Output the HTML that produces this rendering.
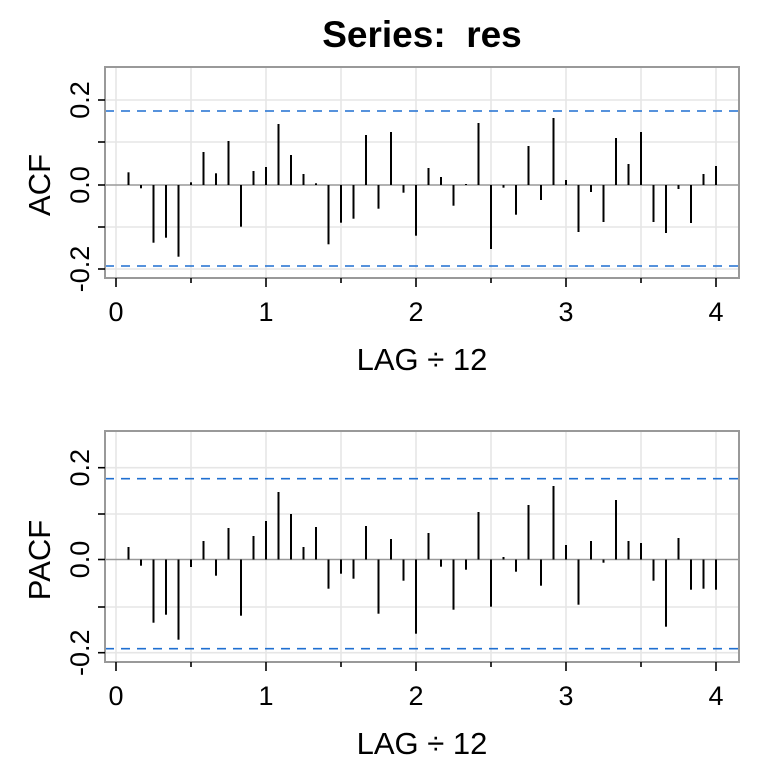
<!DOCTYPE html>
<html><head><meta charset="utf-8"><style>body{margin:0;background:#fff}svg{display:block}text{font-family:"Liberation Sans",Arial,sans-serif;fill:#000}</style></head>
<body>
<svg width="768" height="768" viewBox="0 0 768 768" xmlns="http://www.w3.org/2000/svg">
<text x="422" y="47" font-size="37" font-weight="bold" text-anchor="middle" xml:space="preserve">Series:  res</text>

<!-- TOP PANEL -->
<g stroke="#e6e6e6" stroke-width="1.6">
<line x1="116" y1="67" x2="116" y2="278"/><line x1="191" y1="67" x2="191" y2="278"/><line x1="266" y1="67" x2="266" y2="278"/><line x1="341" y1="67" x2="341" y2="278"/><line x1="416" y1="67" x2="416" y2="278"/><line x1="491" y1="67" x2="491" y2="278"/><line x1="566" y1="67" x2="566" y2="278"/><line x1="641" y1="67" x2="641" y2="278"/><line x1="716" y1="67" x2="716" y2="278"/>
<line x1="105" y1="100" x2="739" y2="100"/><line x1="105" y1="142" x2="739" y2="142"/><line x1="105" y1="227" x2="739" y2="227"/><line x1="105" y1="269" x2="739" y2="269"/>
</g>
<line x1="105" y1="185" x2="739" y2="185" stroke="#999" stroke-width="1.6"/>
<g stroke="#1f6fd1" stroke-width="1.6" stroke-dasharray="9,7"><line x1="105" y1="111" x2="739" y2="111"/><line x1="105" y1="266" x2="739" y2="266"/></g>
<g stroke="#000" stroke-width="2">
<line x1="128.5" y1="185" x2="128.5" y2="172.3"/><line x1="141" y1="185" x2="141" y2="188.3"/><line x1="153.5" y1="185" x2="153.5" y2="242.7"/><line x1="166" y1="185" x2="166" y2="237.7"/><line x1="178.5" y1="185" x2="178.5" y2="256.7"/><line x1="191" y1="185" x2="191" y2="182.3"/><line x1="203.5" y1="185" x2="203.5" y2="152"/><line x1="216" y1="185" x2="216" y2="173.3"/><line x1="228.5" y1="185" x2="228.5" y2="141"/><line x1="241" y1="185" x2="241" y2="226.7"/><line x1="253.5" y1="185" x2="253.5" y2="171"/><line x1="266" y1="185" x2="266" y2="167"/>
<line x1="278.5" y1="185" x2="278.5" y2="124"/><line x1="291" y1="185" x2="291" y2="155"/><line x1="303.5" y1="185" x2="303.5" y2="174"/><line x1="316" y1="185" x2="316" y2="183.3"/><line x1="328.5" y1="185" x2="328.5" y2="244.3"/><line x1="341" y1="185" x2="341" y2="222.7"/><line x1="353.5" y1="185" x2="353.5" y2="218.7"/><line x1="366" y1="185" x2="366" y2="135"/><line x1="378.5" y1="185" x2="378.5" y2="208.7"/><line x1="391" y1="185" x2="391" y2="132"/><line x1="403.5" y1="185" x2="403.5" y2="192.7"/><line x1="416" y1="185" x2="416" y2="235.7"/>
<line x1="428.5" y1="185" x2="428.5" y2="168"/><line x1="441" y1="185" x2="441" y2="177"/><line x1="453.5" y1="185" x2="453.5" y2="205.7"/><line x1="466" y1="185" x2="466" y2="184"/><line x1="478.5" y1="185" x2="478.5" y2="123"/><line x1="491" y1="185" x2="491" y2="249"/><line x1="503.5" y1="185" x2="503.5" y2="187.7"/><line x1="516" y1="185" x2="516" y2="214.7"/><line x1="528.5" y1="185" x2="528.5" y2="146"/><line x1="541" y1="185" x2="541" y2="200"/><line x1="553.5" y1="185" x2="553.5" y2="118"/><line x1="566" y1="185" x2="566" y2="180"/>
<line x1="578.5" y1="185" x2="578.5" y2="232"/><line x1="591" y1="185" x2="591" y2="192"/><line x1="603.5" y1="185" x2="603.5" y2="222"/><line x1="616" y1="185" x2="616" y2="138"/><line x1="628.5" y1="185" x2="628.5" y2="164"/><line x1="641" y1="185" x2="641" y2="132"/><line x1="653.5" y1="185" x2="653.5" y2="222"/><line x1="666" y1="185" x2="666" y2="233"/><line x1="678.5" y1="185" x2="678.5" y2="189"/><line x1="691" y1="185" x2="691" y2="223"/><line x1="703.5" y1="185" x2="703.5" y2="174"/><line x1="716" y1="185" x2="716" y2="166"/>
</g>
<rect x="105" y="67" width="634" height="211" fill="none" stroke="#999" stroke-width="2"/>
<g stroke="#000" stroke-width="1.6">
<line x1="98" y1="100" x2="105" y2="100"/><line x1="98" y1="142" x2="105" y2="142"/><line x1="98" y1="185" x2="105" y2="185"/><line x1="98" y1="227" x2="105" y2="227"/><line x1="98" y1="269" x2="105" y2="269"/>
<line x1="116" y1="278" x2="116" y2="287"/><line x1="266" y1="278" x2="266" y2="287"/><line x1="416" y1="278" x2="416" y2="287"/><line x1="566" y1="278" x2="566" y2="287"/><line x1="716" y1="278" x2="716" y2="287"/>
<line x1="191" y1="278" x2="191" y2="283"/><line x1="341" y1="278" x2="341" y2="283"/><line x1="491" y1="278" x2="491" y2="283"/><line x1="641" y1="278" x2="641" y2="283"/>
</g>
<g font-size="27" text-anchor="middle">
<text transform="translate(89,100) rotate(-90)">0.2</text><text transform="translate(89,185) rotate(-90)">0.0</text><text transform="translate(89,269) rotate(-90)">-0.2</text>
<text x="116" y="321">0</text><text x="266" y="321">1</text><text x="416" y="321">2</text><text x="566" y="321">3</text><text x="716" y="321">4</text>
<text x="422" y="370" font-size="31">LAG ÷ 12</text>
<text transform="translate(50,185) rotate(-90)" font-size="31">ACF</text>
</g>

<!-- BOTTOM PANEL -->
<g stroke="#e6e6e6" stroke-width="1.6">
<line x1="116" y1="431" x2="116" y2="662"/><line x1="191" y1="431" x2="191" y2="662"/><line x1="266" y1="431" x2="266" y2="662"/><line x1="341" y1="431" x2="341" y2="662"/><line x1="416" y1="431" x2="416" y2="662"/><line x1="491" y1="431" x2="491" y2="662"/><line x1="566" y1="431" x2="566" y2="662"/><line x1="641" y1="431" x2="641" y2="662"/><line x1="716" y1="431" x2="716" y2="662"/>
<line x1="105" y1="467.7" x2="739" y2="467.7"/><line x1="105" y1="514" x2="739" y2="514"/><line x1="105" y1="607" x2="739" y2="607"/><line x1="105" y1="652.7" x2="739" y2="652.7"/>
</g>
<line x1="105" y1="559.5" x2="739" y2="559.5" stroke="#999" stroke-width="1.6"/>
<g stroke="#1f6fd1" stroke-width="1.6" stroke-dasharray="9,7"><line x1="105" y1="478.7" x2="739" y2="478.7"/><line x1="105" y1="648.7" x2="739" y2="648.7"/></g>
<g stroke="#000" stroke-width="2">
<line x1="128.5" y1="559.5" x2="128.5" y2="547"/><line x1="141" y1="559.5" x2="141" y2="565.7"/><line x1="153.5" y1="559.5" x2="153.5" y2="622.7"/><line x1="166" y1="559.5" x2="166" y2="614.7"/><line x1="178.5" y1="559.5" x2="178.5" y2="639.7"/><line x1="191" y1="559.5" x2="191" y2="567"/><line x1="203.5" y1="559.5" x2="203.5" y2="541"/><line x1="216" y1="559.5" x2="216" y2="575.7"/><line x1="228.5" y1="559.5" x2="228.5" y2="528"/><line x1="241" y1="559.5" x2="241" y2="615.7"/><line x1="253.5" y1="559.5" x2="253.5" y2="536"/><line x1="266" y1="559.5" x2="266" y2="521"/>
<line x1="278.5" y1="559.5" x2="278.5" y2="492"/><line x1="291" y1="559.5" x2="291" y2="514"/><line x1="303.5" y1="559.5" x2="303.5" y2="547"/><line x1="316" y1="559.5" x2="316" y2="527"/><line x1="328.5" y1="559.5" x2="328.5" y2="588.7"/><line x1="341" y1="559.5" x2="341" y2="573.7"/><line x1="353.5" y1="559.5" x2="353.5" y2="578.7"/><line x1="366" y1="559.5" x2="366" y2="526"/><line x1="378.5" y1="559.5" x2="378.5" y2="613.7"/><line x1="391" y1="559.5" x2="391" y2="539"/><line x1="403.5" y1="559.5" x2="403.5" y2="580.7"/><line x1="416" y1="559.5" x2="416" y2="633.7"/>
<line x1="428.5" y1="559.5" x2="428.5" y2="533"/><line x1="441" y1="559.5" x2="441" y2="566.7"/><line x1="453.5" y1="559.5" x2="453.5" y2="609.7"/><line x1="466" y1="559.5" x2="466" y2="569.7"/><line x1="478.5" y1="559.5" x2="478.5" y2="512"/><line x1="491" y1="559.5" x2="491" y2="606.7"/><line x1="503.5" y1="559.5" x2="503.5" y2="557"/><line x1="516" y1="559.5" x2="516" y2="571.7"/><line x1="528.5" y1="559.5" x2="528.5" y2="505"/><line x1="541" y1="559.5" x2="541" y2="585.7"/><line x1="553.5" y1="559.5" x2="553.5" y2="486"/><line x1="566" y1="559.5" x2="566" y2="545"/>
<line x1="578.5" y1="559.5" x2="578.5" y2="604.7"/><line x1="591" y1="559.5" x2="591" y2="541"/><line x1="603.5" y1="559.5" x2="603.5" y2="562.7"/><line x1="616" y1="559.5" x2="616" y2="500"/><line x1="628.5" y1="559.5" x2="628.5" y2="541"/><line x1="641" y1="559.5" x2="641" y2="543"/><line x1="653.5" y1="559.5" x2="653.5" y2="580.7"/><line x1="666" y1="559.5" x2="666" y2="626.7"/><line x1="678.5" y1="559.5" x2="678.5" y2="538"/><line x1="691" y1="559.5" x2="691" y2="589.7"/><line x1="703.5" y1="559.5" x2="703.5" y2="588.7"/><line x1="716" y1="559.5" x2="716" y2="589.7"/>
</g>
<rect x="105" y="431" width="634" height="231" fill="none" stroke="#999" stroke-width="2"/>
<g stroke="#000" stroke-width="1.6">
<line x1="98" y1="467.7" x2="105" y2="467.7"/><line x1="98" y1="514" x2="105" y2="514"/><line x1="98" y1="559.5" x2="105" y2="559.5"/><line x1="98" y1="607" x2="105" y2="607"/><line x1="98" y1="652.7" x2="105" y2="652.7"/>
<line x1="116" y1="662" x2="116" y2="671"/><line x1="266" y1="662" x2="266" y2="671"/><line x1="416" y1="662" x2="416" y2="671"/><line x1="566" y1="662" x2="566" y2="671"/><line x1="716" y1="662" x2="716" y2="671"/>
<line x1="191" y1="662" x2="191" y2="667"/><line x1="341" y1="662" x2="341" y2="667"/><line x1="491" y1="662" x2="491" y2="667"/><line x1="641" y1="662" x2="641" y2="667"/>
</g>
<g font-size="27" text-anchor="middle">
<text transform="translate(89,467.7) rotate(-90)">0.2</text><text transform="translate(89,559.5) rotate(-90)">0.0</text><text transform="translate(89,652.7) rotate(-90)">-0.2</text>
<text x="116" y="705">0</text><text x="266" y="705">1</text><text x="416" y="705">2</text><text x="566" y="705">3</text><text x="716" y="705">4</text>
<text x="422" y="754" font-size="31">LAG ÷ 12</text>
<text transform="translate(50,560) rotate(-90)" font-size="31">PACF</text>
</g>
</svg>
</body></html>
